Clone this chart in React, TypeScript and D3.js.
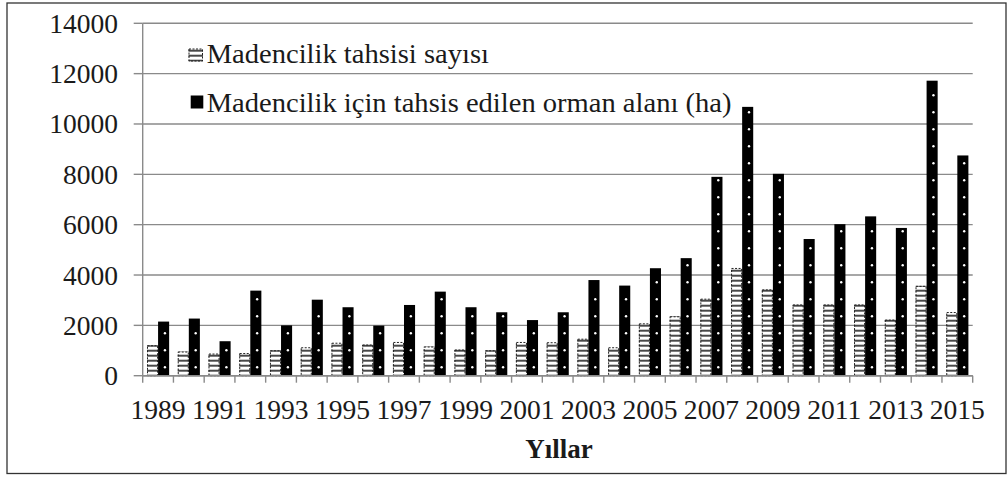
import React from "react";
import * as d3 from "d3";

const years: string[] = ["1989","1990","1991","1992","1993","1994","1995","1996","1997","1998","1999","2000","2001","2002","2003","2004","2005","2006","2007","2008","2009","2010","2011","2012","2013","2014","2015"];
const allocationCount: number[] = [1210, 960, 880, 900, 1010, 1130, 1310, 1240, 1340, 1160, 1040, 1010, 1340, 1330, 1470, 1130, 2080, 2360, 3060, 4280, 3430, 2830, 2830, 2830, 2230, 3570, 2530];
const forestArea: number[] = [2150, 2270, 1370, 3380, 2000, 3020, 2720, 1990, 2810, 3340, 2720, 2520, 2210, 2520, 3800, 3580, 4270, 4670, 7900, 10680, 8020, 5430, 6020, 6330, 5870, 11720, 8750];
const yTicks: number[] = [0, 2000, 4000, 6000, 8000, 10000, 12000, 14000];
const seriesNames: string[] = ["Madencilik tahsisi sayısı", "Madencilik için tahsis edilen orman alanı (ha)"];
const xTitle = "Yıllar";

const FONT = "'Liberation Serif', 'Times New Roman', serif";

function SText(props: { x: number; y: number; sx: number; size: number; anchor?: string; bold?: boolean; children: React.ReactNode }) {
  const { x, y, sx, size, anchor, bold, children } = props;
  return (
    <text
      transform={`translate(${x},${y}) scale(${sx},1)`}
      textAnchor={anchor || "start"}
      fontFamily={FONT}
      fontSize={size}
      fontWeight={bold ? "bold" : "normal"}
      fill="#1a1a1a"
    >
      {children}
    </text>
  );
}

export default function App() {
  const W = 1007, H = 477;
  const left = 142.7, right = 972.7, top = 23.3, bottom = 375.7;

  const y = d3.scaleLinear().domain([0, 14000]).range([bottom, top]);
  const x0 = d3.scaleBand<string>().domain(years).range([left, right]).paddingInner(0.28).paddingOuter(0.14);
  const x1 = d3.scaleBand<string>().domain(["count", "area"]).range([0, x0.bandwidth()]).padding(0);
  const step = x0.step();

  const gridColor = "#8a8a8a";

  return (
    <svg width={W} height={H} style={{ position: "absolute", left: 0, top: 0 }} xmlns="http://www.w3.org/2000/svg">
      <defs>
        <pattern id="stripes" patternUnits="userSpaceOnUse" width="4" height="5" patternTransform={`translate(0,${bottom % 5})`}>
          <rect x="0" y="0" width="4" height="5" fill="#ffffff" />
          <rect x="0" y="-0.8" width="4" height="1.6" fill="#1a1a1a" />
          <rect x="0" y="4.2" width="4" height="1.6" fill="#1a1a1a" />
        </pattern>
      </defs>
      <rect x={0} y={0} width={W} height={H} fill="#ffffff" />
      <rect x={7} y={3} width={999} height={470.5} fill="none" stroke="#333" strokeWidth={1.3} />

      {yTicks.map((t) => (
        <line key={"g" + t} x1={left} x2={right} y1={y(t)} y2={y(t)} stroke={gridColor} strokeWidth={1.4} />
      ))}
      <line x1={left} x2={left} y1={top} y2={bottom} stroke={gridColor} strokeWidth={1.4} />
      {yTicks.map((t) => (
        <line key={"yt" + t} x1={left - 9} x2={left} y1={y(t)} y2={y(t)} stroke={gridColor} strokeWidth={1.4} />
      ))}
      {yTicks.map((t) => (
        <SText key={"yl" + t} x={118} y={y(t) + 9.5} sx={1.02} size={27} anchor="end">{String(t)}</SText>
      ))}

      {years.map((yr, i) => {
        const gx = x0(yr) as number;
        const cx = gx + (x1("count") as number);
        const ax = gx + (x1("area") as number);
        const bw = x1.bandwidth();
        const cTop = y(allocationCount[i]);
        const aTop = y(forestArea[i]);
        const dots: number[] = [];
        for (let dy = bottom - 8.5; dy > aTop + 3; dy -= 17) dots.push(dy);
        return (
          <g key={"b" + yr}>
            <rect x={cx} y={cTop} width={bw} height={bottom - cTop} fill="url(#stripes)" />
            <rect x={cx + 0.5} y={cTop + 0.5} width={bw - 1} height={bottom - cTop - 0.5} fill="none" stroke="#222" strokeWidth={1} strokeDasharray="2,1.5" />
            <rect x={ax} y={aTop} width={bw} height={bottom - aTop} fill="#000" />
            {dots.map((dy, k) => (
              <circle key={k} cx={ax + bw * 0.62} cy={dy} r={1.2} fill="#fff" />
            ))}
          </g>
        );
      })}

      <line x1={left} x2={right} y1={bottom} y2={bottom} stroke={gridColor} strokeWidth={1.4} />
      {years.map((yr, i) => (
        <line key={"xt" + yr} x1={left + i * step} x2={left + i * step} y1={bottom} y2={bottom + 7} stroke={gridColor} strokeWidth={1.4} />
      ))}
      <line x1={right} x2={right} y1={bottom} y2={bottom + 7} stroke={gridColor} strokeWidth={1.4} />
      {years.map((yr, i) =>
        i % 2 === 0 ? (
          <SText key={"xl" + yr} x={(x0(yr) as number) + x0.bandwidth() / 2} y={419} sx={1.02} size={27} anchor="middle">{yr}</SText>
        ) : null
      )}
      <SText x={559} y={458} sx={1} size={27} anchor="middle" bold>{xTitle}</SText>

      <rect x={188.5} y={48.5} width={14.5} height={13} fill="url(#stripes)" />
      <rect x={189} y={49} width={13.5} height={12} fill="none" stroke="#222" strokeWidth={1} strokeDasharray="2,1.5" />
      <SText x={206.7} y={62.5} sx={1.02} size={28}>{seriesNames[0]}</SText>
      <rect x={190.7} y={95.5} width={12.6} height={13} fill="#000" />
      <SText x={206.7} y={112} sx={1.02} size={28}>{seriesNames[1]}</SText>
    </svg>
  );
}
